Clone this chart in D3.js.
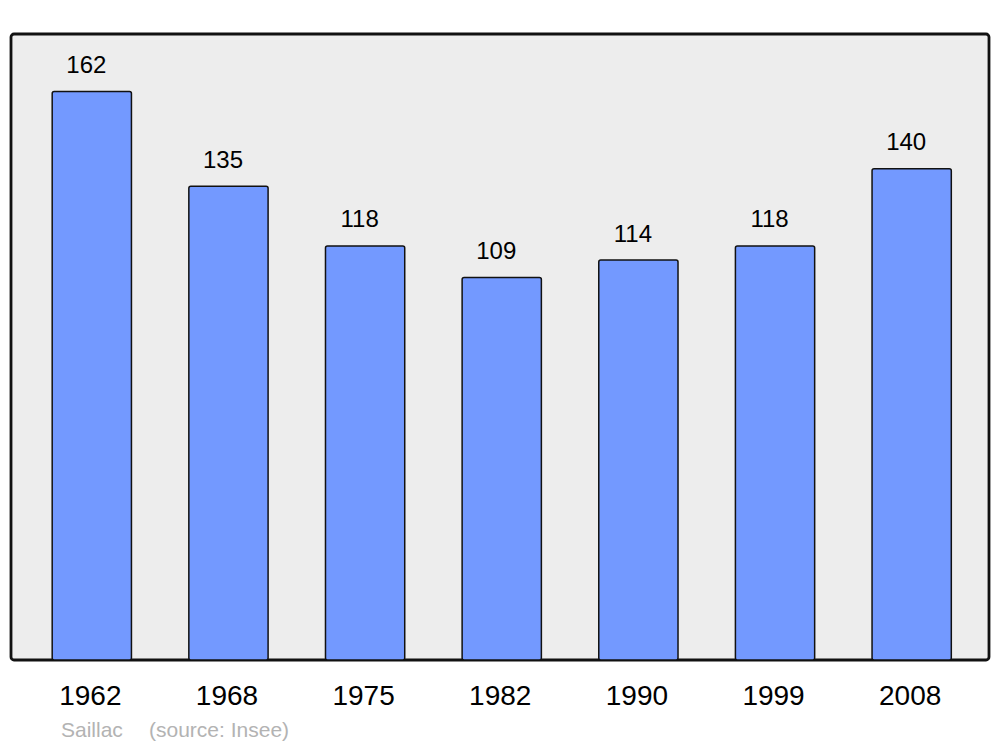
<!DOCTYPE html>
<html><head><meta charset="utf-8">
<script src="https://cdn.jsdelivr.net/npm/d3@7"></script>
<style>html,body{margin:0;padding:0;background:#fff;}svg{display:block;}</style>
</head><body>
<svg id="c" width="1000" height="747"></svg>
<script>
const years = ["1962","1968","1975","1982","1990","1999","2008"];
const population = [162,135,118,109,114,118,140];
const footerText = ["Saillac", "(source: Insee)"];

const svg = d3.select("#c");
const font = "Liberation Sans, Arial, sans-serif";
const plot = {x0: 11, x1: 989, y0: 34, y1: 660};

svg.append("rect")
  .attr("x", plot.x0).attr("y", plot.y0)
  .attr("width", plot.x1 - plot.x0).attr("height", plot.y1 - plot.y0)
  .attr("rx", 3).attr("ry", 3)
  .attr("fill", "#ededed").attr("stroke", "#111").attr("stroke-width", 2.8);

const x = d3.scaleBand().domain(years).range([23.5, 980]).paddingInner(0.42).paddingOuter(0.21);
const y = d3.scaleLinear().domain([0, d3.max(population) * 1.1]).range([plot.y1, plot.y0]);

const data = years.map((yr, i) => ({yr, v: population[i]}));

svg.selectAll("rect.bar").data(data).enter().append("rect")
  .attr("class", "bar")
  .attr("x", d => x(d.yr)).attr("y", d => y(d.v) + 0.5)
  .attr("width", x.bandwidth()).attr("height", d => y(0) - y(d.v) - 0.5)
  .attr("rx", 2).attr("ry", 2)
  .attr("fill", "#7399ff").attr("stroke", "#111").attr("stroke-width", 1.5);

svg.selectAll("text.val").data(data).enter().append("text")
  .attr("class", "val")
  .attr("x", d => x(d.yr) + x.bandwidth() / 2 - 5.5)
  .attr("y", d => y(d.v) - 18)
  .attr("text-anchor", "middle")
  .attr("font-family", font).attr("font-size", 24).attr("fill", "#000")
  .text(d => d.v);

svg.selectAll("text.yr").data(years).enter().append("text")
  .attr("class", "yr")
  .attr("x", d => x(d) + x.bandwidth() / 2 - 1.5)
  .attr("y", 705)
  .attr("text-anchor", "middle")
  .attr("font-family", font).attr("font-size", 28).attr("fill", "#000")
  .text(d => d);

svg.append("text").attr("x", 61).attr("y", 737)
  .attr("font-family", font).attr("font-size", 21).attr("fill", "#b3b3b3")
  .text(footerText[0]);
svg.append("text").attr("x", 149).attr("y", 737)
  .attr("font-family", font).attr("font-size", 21).attr("fill", "#b3b3b3")
  .text(footerText[1]);
</script>
</body></html>
